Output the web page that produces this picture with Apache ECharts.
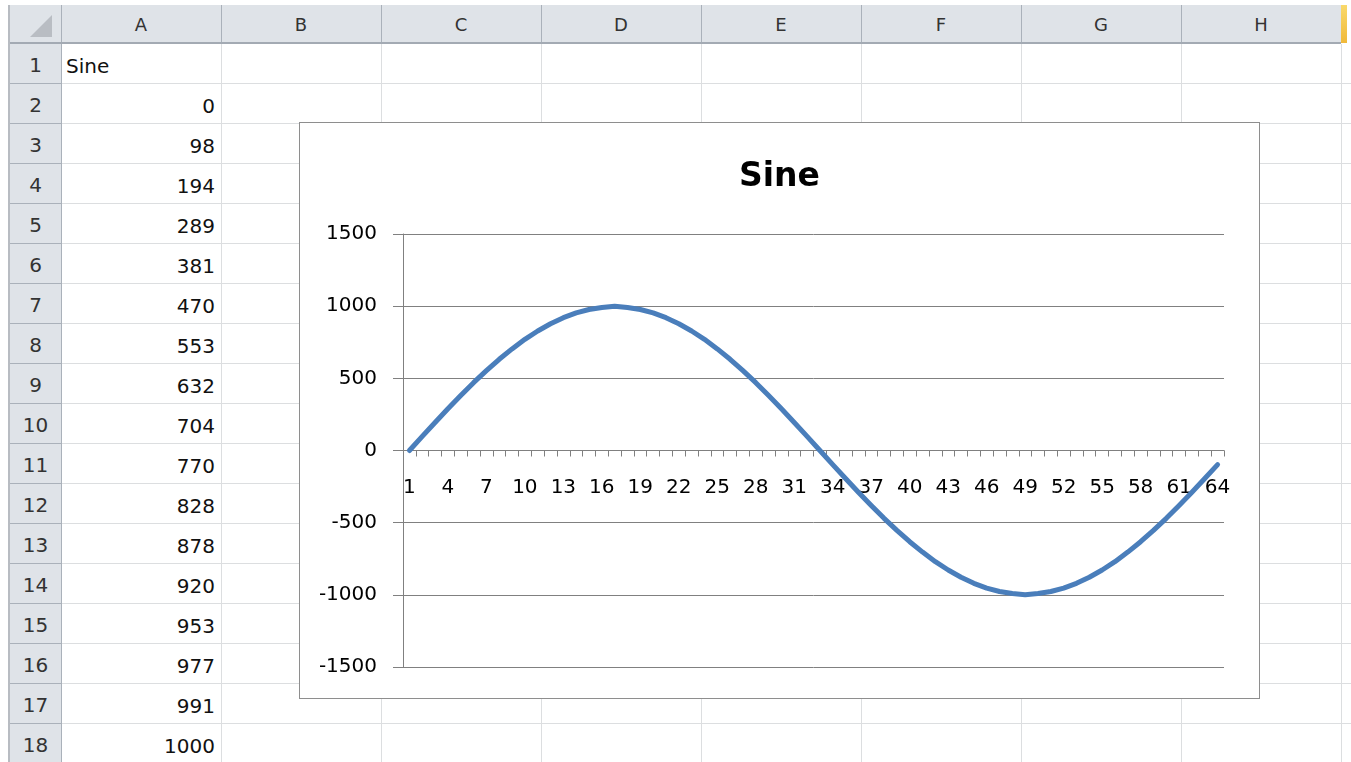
<!DOCTYPE html>
<html><head><meta charset="utf-8">
<script src="https://cdn.jsdelivr.net/npm/echarts@6/dist/echarts.min.js"></script>
<style>
html,body{margin:0;padding:0;background:#fff;}
body{width:1351px;height:762px;overflow:hidden;position:relative;font-family:"DejaVu Sans",sans-serif;}
.a{position:absolute;box-sizing:border-box;}
</style></head><body>
<div id="sheet"></div>
<div id="chartBox" class="a" style="left:299px;top:122px;width:961px;height:577px;border:1px solid #8e8e8e;background:#fff;">
  <div id="chart" style="width:959px;height:575px;"></div>
</div>
<script>
// ---- data ----
const sheetColumns = ['A','B','C','D','E','F','G','H'];
const seriesName = 'Sine';
const sineValues = [
  0, 98, 194, 289, 381, 470, 553, 632, 704, 770, 828, 878, 920, 953, 977, 991, 1000,
  991, 977, 953, 920, 878, 828, 770, 704, 632, 553, 470, 381, 289, 194, 98, 0,
  -98, -194, -289, -381, -470, -553, -632, -704, -770, -828, -878, -920, -953, -977, -991, -1000,
  -991, -977, -953, -920, -878, -828, -770, -704, -632, -553, -470, -381, -289, -194, -98
];
const categories = sineValues.map((v, i) => String(i + 1));
const yMin = -1500, yMax = 1500, yStep = 500;

// ---- spreadsheet backdrop ----
const sheet = document.getElementById('sheet');
function box(l, t, w, h, style, text) {
  const d = document.createElement('div');
  d.className = 'a';
  d.style.cssText = `left:${l}px;top:${t}px;width:${w}px;height:${h}px;` + (style || '');
  if (text !== undefined) d.textContent = text;
  sheet.appendChild(d);
  return d;
}
const hdrBg = '#dfe3e8', hdrLine = '#aab1ba', gridLine = '#dcdee0';
const rowTop = 44, rowH = 40, colLeft = 61, colW = 160, nRows = 18;
box(10, 5, 1331, 39, `background:${hdrBg};`);
box(10, 44, 51, 718, `background:${hdrBg};`);
box(8, 5, 2, 757, 'background:#b8bcc2;');
box(30, 15, 0, 0, 'border-left:22px solid transparent;border-bottom:22px solid #b9bdc3;');
for (let i = 1; i <= sheetColumns.length; i++) {
  box(colLeft + i * colW, rowTop, 1, 762 - rowTop, `background:${gridLine};`);
}
for (let r = 1; r <= nRows; r++) {
  box(colLeft, rowTop + r * rowH - 1, 1351 - colLeft, 1, `background:${gridLine};`);
}
sheetColumns.forEach((c, i) => {
  box(colLeft + i * colW, 5, colW, 38,
    'color:#333;font-size:18px;line-height:40px;text-align:center;', c);
  box(colLeft + (i + 1) * colW, 5, 1, 38, `background:${hdrLine};`);
});
box(colLeft, 5, 1, 757, `background:${hdrLine};`);
box(10, 42, 1331, 2, `background:#a3aab3;`);
box(1341, 5, 6, 38, 'background:linear-gradient(#f9d96b,#f0b93a);');
for (let r = 1; r <= nRows; r++) {
  const top = rowTop + (r - 1) * rowH;
  box(10, top, 51, rowH, 'color:#333;font-size:20px;line-height:42px;text-align:center;', String(r));
  box(10, top + rowH - 1, 51, 1, `background:${hdrLine};`);
  const cellText = r === 1 ? seriesName : String(sineValues[r - 2]);
  const align = r === 1 ? 'left;padding-left:5px' : 'right;padding-right:6px';
  box(colLeft, top, colW, rowH, `color:#111;font-size:20px;line-height:44px;text-align:${align};`, cellText);
}

// ---- chart ----
const chart = echarts.init(document.getElementById('chart'), null, { renderer: 'canvas' });
const axisGray = '#808080';
const gridTop = 111, gridBottom = 31, chartH = 575;
const plotH = chartH - gridTop - gridBottom;
// place the category axis where value 0 sits (Excel "axis crosses at 0")
const zeroOffset = -plotH * (0 - yMin) / (yMax - yMin);
chart.setOption({
  animation: false,
  backgroundColor: '#fff',
  textStyle: { fontFamily: 'DejaVu Sans' },
  title: {
    text: seriesName,
    left: 'center',
    top: 33,
    textStyle: { fontFamily: 'DejaVu Sans', fontSize: 33, fontWeight: 'bold', color: '#000' }
  },
  grid: { left: 103, right: 35, top: gridTop, bottom: gridBottom, containLabel: false, outerBoundsMode: 'none' },
  xAxis: {
    type: 'category',
    data: categories,
    boundaryGap: true,
    offset: zeroOffset,
    axisLine: { onZero: false, lineStyle: { color: axisGray, width: 1 } },
    axisTick: { show: true, interval: 0, length: 6, lineStyle: { color: axisGray } },
    axisLabel: { interval: 2, margin: 27, fontSize: 20, color: '#000', fontFamily: 'DejaVu Sans' },
    splitLine: { show: false }
  },
  yAxis: {
    type: 'value',
    min: yMin, max: yMax, interval: yStep,
    axisLine: { show: true, lineStyle: { color: axisGray, width: 1 } },
    axisTick: { show: true, length: 10, lineStyle: { color: axisGray } },
    axisLabel: { margin: 26, fontSize: 20, color: '#000', fontFamily: 'DejaVu Sans',
      formatter: v => String(v) },
    splitLine: { show: true, lineStyle: { color: axisGray, width: 1 } }
  },
  series: [{
    name: seriesName,
    type: 'line',
    data: sineValues,
    showSymbol: false,
    symbol: 'none',
    z: 5,
    lineStyle: { color: '#4a7ebb', width: 5, cap: 'round', join: 'round' },
    itemStyle: { color: '#4a7ebb' }
  }]
});
</script>
</body></html>
